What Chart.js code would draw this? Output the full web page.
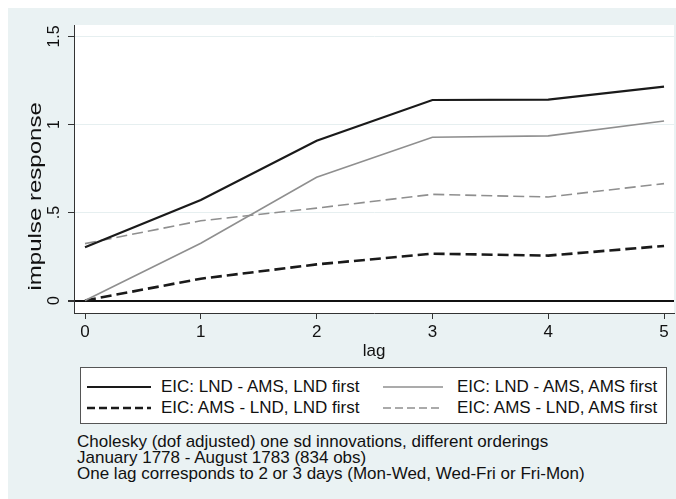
<!DOCTYPE html>
<html>
<head>
<meta charset="utf-8">
<script src="https://cdn.jsdelivr.net/npm/chart.js@4/dist/chart.umd.min.js"></script>
<style>
  html, body { margin: 0; padding: 0; background: #fff; }
  body { width: 676px; height: 499px; position: relative; overflow: hidden; font-family: "Liberation Sans", Arial, sans-serif; }
  #bg { position: absolute; left: 8px; top: 8px; width: 668px; height: 491px; background: #eaf2f3; }
  #wrap { position: absolute; left: 0; top: 0; width: 676px; height: 366px; }
  #legend { position: absolute; left: 80px; top: 367px; width: 585px; height: 55px; background: #fff; border: 1px solid #555; }
  .item { position: absolute; height: 20px; font-size: 17px; line-height: 20px; color: #111; white-space: nowrap; }
  .item svg { position: absolute; left: 0; top: 0; }
  .item span { position: absolute; top: 0; }
  #notes { position: absolute; left: 77px; top: 434px; font-size: 17px; line-height: 16px; color: #111; white-space: nowrap; }
</style>
</head>
<body>
<div id="bg"></div>
<div id="wrap"><canvas id="irfChart" width="676" height="366"></canvas></div>
<div id="legend"></div>
<div id="notes"></div>
<script>
const FONT = "'Liberation Sans', Arial, sans-serif";

const lags = [0, 1, 2, 3, 4, 5];
const xTicks = [0, 1, 2, 3, 4, 5];
const yTicks = [0, 0.5, 1, 1.5];

const seriesLabels = [
  "EIC: LND - AMS, LND first",
  "EIC: LND - AMS, AMS first",
  "EIC: AMS - LND, LND first",
  "EIC: AMS - LND, AMS first",
];

const lndAmsLndFirst = [0.302, 0.571, 0.908, 1.139, 1.141, 1.215];
const lndAmsAmsFirst = [0.0, 0.325, 0.700, 0.927, 0.935, 1.020];
const amsLndLndFirst = [0.0, 0.124, 0.205, 0.266, 0.255, 0.310];
const amsLndAmsFirst = [0.323, 0.453, 0.525, 0.603, 0.588, 0.664];

const noteLines = [
  "Cholesky (dof adjusted) one sd innovations, different orderings",
  "January 1778 - August 1783 (834 obs)",
  "One lag corresponds to 2 or 3 days (Mon-Wed, Wed-Fri or Fri-Mon)",
];

const yTitle = "impulse response";
const xTitle = "lag";

function toPoints(values) {
  return lags.map((lag, i) => ({ x: lag, y: values[i] }));
}

function stataNumber(v) {
  return String(v).replace(/^0\./, ".");
}

const plotBackground = {
  id: "plotBackground",
  beforeDraw(chart) {
    const { ctx, chartArea: a } = chart;
    ctx.save();
    ctx.fillStyle = "#ffffff";
    ctx.fillRect(a.left, a.top, a.right - a.left, a.bottom - a.top);
    ctx.restore();
  },
};

// Stata puts the y title a bit below the middle of the axis,
// and its rotated text comes out stretched along the axis
const yAxisTitle = {
  id: "yAxisTitle",
  afterDraw(chart) {
    const { ctx, chartArea: a } = chart;
    ctx.save();
    ctx.translate(36, a.top + (a.bottom - a.top) * 0.595);
    ctx.rotate(-Math.PI / 2);
    ctx.scale(1.3, 1);
    ctx.font = "18.5px " + FONT;
    ctx.fillStyle = "#111";
    ctx.textAlign = "center";
    ctx.textBaseline = "middle";
    ctx.fillText(yTitle, 0, 0);
    ctx.restore();
  },
};

const lineStyles = [
  { borderColor: "#1a1a1a", borderWidth: 2.2, borderDash: [], legendDash: "" },
  { borderColor: "#8f8f8f", borderWidth: 1.6, borderDash: [], legendDash: "" },
  { borderColor: "#1a1a1a", borderWidth: 2.6, borderDash: [11, 5], legendDash: "8 4" },
  { borderColor: "#8f8f8f", borderWidth: 1.6, borderDash: [11, 5], legendDash: "8 4" },
];

const seriesValues = [lndAmsLndFirst, lndAmsAmsFirst, amsLndLndFirst, amsLndAmsFirst];

const chart = new Chart(document.getElementById("irfChart").getContext("2d"), {
  type: "line",
  data: {
    datasets: seriesValues.map((values, i) => ({
      label: seriesLabels[i],
      data: toPoints(values),
      borderColor: lineStyles[i].borderColor,
      borderWidth: lineStyles[i].borderWidth,
      borderDash: lineStyles[i].borderDash,
      pointRadius: 0,
      tension: 0,
      fill: false,
    })),
  },
  options: {
    responsive: false,
    animation: false,
    devicePixelRatio: 1,
    layout: { padding: { top: 25, right: 2, left: 0, bottom: 0 } },
    plugins: {
      legend: { display: false },
      tooltip: { enabled: false },
    },
    scales: {
      x: {
        type: "linear",
        min: -0.095,
        max: 5.086,
        afterBuildTicks: (scale) => {
          scale.ticks = xTicks.map((v) => ({ value: v }));
        },
        afterFit: (scale) => {
          scale.height = 53;
        },
        grid: { drawOnChartArea: false, tickLength: 6, tickColor: "#333" },
        border: { color: "#333", width: 1 },
        ticks: {
          font: { family: FONT, size: 17 },
          color: "#111",
          padding: 3,
          maxRotation: 0,
          callback: (v) => stataNumber(v),
        },
        title: {
          display: true,
          text: xTitle,
          font: { family: FONT, size: 17 },
          color: "#111",
          padding: { top: 0, bottom: 4 },
        },
      },
      y: {
        min: -0.071,
        max: 1.565,
        afterBuildTicks: (scale) => {
          scale.ticks = yTicks.map((v) => ({ value: v }));
        },
        afterFit: (scale) => {
          scale.width = 74;
        },
        grid: {
          color: (ctx) => (ctx.tick && ctx.tick.value === 0 ? "#111" : "#e6eff0"),
          lineWidth: (ctx) => (ctx.tick && ctx.tick.value === 0 ? 2 : 1),
          tickLength: 6,
          tickColor: "#333",
        },
        border: { color: "#333", width: 1 },
        ticks: {
          font: { family: FONT, size: 16 },
          color: "#111",
          minRotation: 90,
          maxRotation: 90,
          crossAlign: "center",
          padding: 2,
          callback: (v) => stataNumber(v),
        },
      },
    },
  },
  plugins: [plotBackground, yAxisTitle],
});

// legend box, two columns, built from the chart datasets
const legendBox = document.getElementById("legend");
const legendCols = [6, 302];
const legendRows = [9, 30];
chart.data.datasets.forEach((ds, i) => {
  const style = lineStyles[i];
  const item = document.createElement("div");
  item.className = "item";
  item.style.left = legendCols[i % 2] + "px";
  item.style.top = legendRows[Math.floor(i / 2)] + "px";
  const sampleW = i % 2 === 0 ? 64 : 60;
  const textGap = i % 2 === 0 ? 10 : 14;
  item.innerHTML =
    '<svg width="' + sampleW + '" height="20"><line x1="0" y1="10" x2="' + sampleW + '" y2="10" stroke="' +
    style.borderColor + '" stroke-width="' + style.borderWidth + '"' +
    (style.legendDash ? ' stroke-dasharray="' + style.legendDash + '"' : "") + "/></svg>" +
    '<span style="left:' + (sampleW + textGap) + 'px">' + ds.label + "</span>";
  legendBox.appendChild(item);
});

document.getElementById("notes").innerHTML = noteLines.map((t) => "<div>" + t + "</div>").join("");
</script>
</body>
</html>
